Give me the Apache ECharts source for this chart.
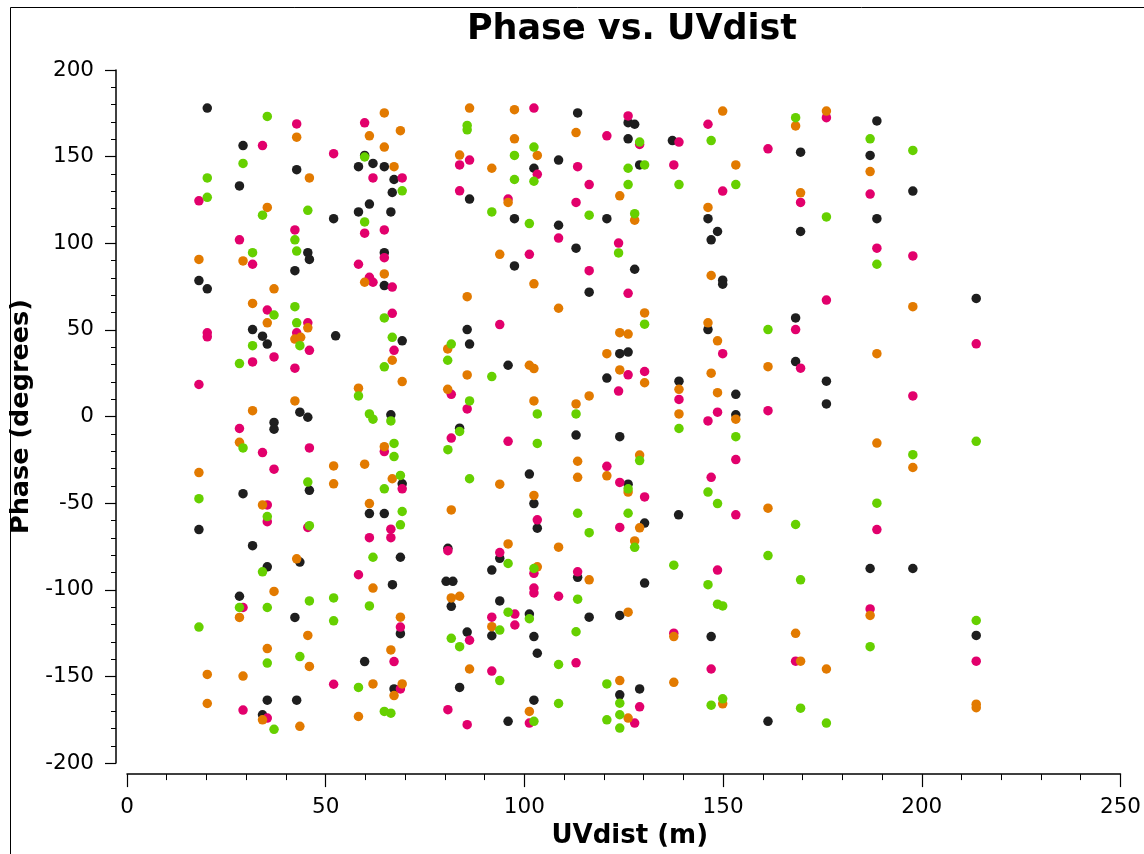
<!DOCTYPE html>
<html>
<head>
<meta charset="utf-8">
<script src="https://cdn.jsdelivr.net/npm/echarts@6/dist/echarts.min.js"></script>
<style>html,body{margin:0;padding:0;background:#fff;overflow:hidden}#c{width:1144px;height:854px}</style>
</head>
<body>
<div id="c"></div>
<script>
const titleText = "Phase vs. UVdist";
const xName = "UVdist (m)";
const yName = "Phase (degrees)";

const blackPts = [
[20.2,178],[29.2,156.4],[42.7,142.5],[28.3,133.1],[52,114.2],[45.5,94.6],[45.9,90.7],[42.25,84.2],[18.1,78.5],[20.2,73.7],
[31.6,50.2],[34.1,46.4],[35.3,41.8],[43.5,2.5],[45.5,-0.4],[37,-3.4],[37,-7.3],[29.2,-44.5],[45.9,-42.6],[18.1,-65.2],
[31.6,-74.5],[35.3,-86.7],[43.5,-84],[28.3,-103.7],[42.25,-115.9],[35.3,-163.7],[42.7,-163.7],[34.1,-172.1],
[59.8,150.7],[58.25,144.2],[61.9,146.1],[64.75,144.2],[67.2,136.8],[66.75,129.3],[61,122.6],[58.25,118.1],[66.4,118.1],
[86.2,125.5],[64.75,94.6],[64.75,75.6],[52.5,46.6],[69.25,43.7],[85.6,50.2],[86.2,41.8],[66.4,1.0],
[83.7,-6.7],[69.25,-38.8],[61,-56],[64.75,-56],[80.75,-76],[68.8,-81.2],[66.8,-97],[80.3,-95.1],[82,-95.1],[81.6,-109.5],
[68.8,-125.3],[85.6,-124.4],[59.8,-141.4],[67.2,-157.2],[83.7,-156.3],
[113.4,175.2],[108.6,148],[102.4,143.3],[97.5,114.2],[108.6,110.4],[120.75,114.2],[113,97.2],[97.5,86.9],[116.3,71.8],
[124,36.3],[126.1,37.2],[95.9,29.6],[120.75,22.2],
[124,-11.6],[113,-10.7],[101.25,-33.2],[102.4,-50.2],[103.25,-64.4],[93.8,-81.8],[91.8,-88.6],[113.4,-92.8],[93.8,-106.4],
[101.25,-114],[91.8,-126.5],[116.3,-115.8],[124,-114.8],[102.4,-127],[103.25,-136.6],[102.4,-163.7],[124,-160.6],[95.9,-175.9],
[126.1,169.6],[127.75,168.7],[126.1,160.3],[137.25,159.3],[129,145.2],[146.2,114.2],[148.6,106.8],[147,102],[127.75,85],
[149.9,78.7],[149.9,76.4],[146.2,50.2],[138.9,20.4],[153.2,12.8],[153.2,1.0],
[126.1,-39],[138.8,-56.7],[130.25,-61.5],[130.25,-96.1],[147,-127],[129,-157.2],[161.3,-175.9],
[188.7,170.6],[169.5,152.6],[187,150.7],[197.75,130.1],[188.7,114.2],[169.5,106.8],[213.7,68.2],[168.25,56.9],
[168.25,31.7],[176,20.4],[176,7.3],[187,-87.7],[197.75,-87.7],[213.7,-126.3]
];

const magentaPts = [
[42.7,168.9],[34.1,156.4],[52,151.7],[18.1,124.5],[42.25,107.7],[28.3,102],[31.6,87.9],[35.3,61.5],[45.5,54.1],[20.2,48.3],
[20.2,46],[42.7,48.3],[45.9,38.2],[31.6,31.5],[37,34.4],[42.25,27.9],[18.1,18.5],
[28.3,-6.9],[34.1,-20.8],[45.9,-18.1],[37,-30.4],[35.3,-51],[35.3,-60.7],[45.5,-64],[29.2,-110.2],[52,-154.5],[29.2,-169.4],[35.3,-174],
[59.8,169.5],[69.25,137.7],[61.9,137.7],[59.8,105.8],[64.75,107.7],[83.7,145.2],[86.2,148],[83.7,130.3],[64.75,91.7],[58.25,87.9],
[61,80.4],[61.9,77.5],[66.75,74.7],[66.75,59.6],[67.2,38.2],[81.6,12.8],[85.6,4.4],
[81.6,-12.4],[64.75,-20.2],[69.25,-41.7],[66.4,-65],[66.4,-69.9],[61,-69.9],[80.75,-77.4],[58.25,-91.3],[68.8,-121.5],[86.2,-129.1],
[67.2,-141.4],[68.8,-157.2],[80.75,-169.2],[85.6,-177.8],
[102.4,178],[120.75,162],[113.4,144.2],[103.25,139.8],[116.3,133.9],[95.9,125.5],[113,123.6],[108.6,103],[123.7,100.1],[101.25,93.6],
[116.3,84.2],[93.8,53.1],[123.7,14.7],
[95.9,-14.3],[120.75,-28.7],[124,-38],[103.25,-59.6],[124,-64],[93.8,-78.5],[102.4,-90.5],[113.4,-89.6],[102.4,-99],[102.4,-101.8],
[108.6,-103.7],[97.6,-114],[91.8,-115.8],[97.6,-120.3],[113,-142.1],[91.8,-146.9],[101.25,-176.9],
[126.1,173.5],[146.2,168.7],[129,157],[138.9,158.4],[161.3,154.5],[137.6,145.2],[149.9,130.1],[126.1,71.1],[149.9,36.3],[126.1,24.1],
[130.25,26],[138.9,9.9],[148.6,2.5],[146.2,-2.5],[161.3,3.4],
[153.2,-24.8],[147,-35.1],[130.25,-46.4],[153.2,-56.7],[148.6,-88.6],[137.6,-125],[147,-145.7],[129,-167.5],[127.75,-176.9],
[176,172.5],[169.5,123.6],[187,128.4],[188.7,97.2],[197.75,92.7],[176,67.2],[168.25,50.2],[213.7,42],[169.5,27.9],[197.75,11.9],
[188.7,-65.2],[187,-111],[168.25,-141.2],[213.7,-141.2]
];

const orangePts = [
[42.7,161.2],[45.9,137.7],[35.3,120.7],[18.1,90.7],[29.2,89.8],[37,73.7],[31.6,65.3],[35.3,54.1],[45.5,51.2],[42.25,44.7],
[43.7,45.7],[42.25,9],[31.6,3.4],
[28.3,-14.9],[18.1,-32.3],[52,-28.5],[52,-38.8],[34.1,-51],[42.7,-82.1],[37,-100.9],[28.3,-115.9],[45.5,-126.3],[35.3,-133.9],
[45.9,-144.2],[20.2,-148.8],[29.2,-149.8],[20.2,-165.6],[34.1,-175],[43.5,-178.8],
[64.75,175.2],[68.8,165],[61,162],[64.75,155.5],[67.2,144.2],[83.7,150.9],[86.2,178],[64.75,82.3],[59.8,77.5],[85.6,69.2],
[66.75,32.5],[69.25,20.2],[58.25,16.4],[80.7,39],[85.6,24],[80.7,15.7],
[64.75,-17.4],[59.8,-27.5],[66.75,-35.9],[61,-50.2],[81.6,-53.9],[61.9,-99],[81.6,-104.7],[83.7,-103.7],[68.8,-115.8],
[66.4,-134.7],[86.2,-145.7],[61.9,-154.3],[69.25,-154.3],[67.2,-161],[58.25,-173.1],
[97.5,177.1],[113,163.9],[97.5,160.3],[103.25,150.7],[91.8,143.3],[95.9,123.6],[124,127.4],[93.8,93.6],[102.4,76.6],[108.6,62.5],
[124,48.4],[126.1,47.6],[120.75,36.3],[101.25,29.6],[102.4,27.7],[124,26.9],[102.4,9],[113,7.3],[116.3,11.9],
[113.4,-25.8],[113.4,-35.1],[120.75,-34.2],[93.8,-39],[102.4,-45.5],[95.9,-73.5],[108.6,-75.4],[103.25,-86.7],[116.3,-94.2],
[91.8,-121.3],[124,-152.4],[101.25,-170.2],
[149.9,176.3],[153.2,145.2],[146.2,120.7],[127.75,113.3],[147,81.4],[130.25,59.8],[146.2,54.1],[148.6,43.7],[130.25,19.5],
[147,25],[161.3,28.8],[138.9,15.7],[138.9,1.5],[148.6,13.8],[153.2,-1.5],
[129,-22.2],[126.1,-43.6],[161.3,-52.9],[129,-64.2],[127.75,-71.8],[126.1,-112.9],[137.6,-127],[137.6,-153.4],[126.1,-174],[149.9,-165.8],
[168.25,167.7],[176,176.3],[187,141.4],[169.5,129.1],[197.75,63.4],[188.7,36.3],
[188.7,-15.3],[197.75,-29.4],[187,-114.8],[168.25,-125.1],[169.5,-141.2],[176,-145.7],[213.7,-166],[213.7,-168]
];

const greenPts = [
[35.3,173.2],[29.2,146.1],[20.2,137.7],[20.2,126.5],[34.1,116.2],[45.5,119],[42.25,102],[42.7,95.5],[31.6,94.6],[37,58.6],
[42.25,63.4],[42.7,54.1],[43.5,40.9],[31.6,40.9],[28.3,30.6],
[29.2,-18.1],[45.5,-37.8],[18.1,-47.4],[35.3,-57.7],[45.9,-63],[34.1,-89.6],[28.3,-110.2],[35.3,-110.2],[45.9,-106.4],[52,-104.7],
[52,-117.9],[18.1,-121.5],[43.5,-138.5],[35.3,-142.3],[37,-180.5],
[59.8,149.8],[69.25,130.3],[59.8,112.3],[85.6,165.5],[85.6,168],[64.75,56.9],[66.75,45.7],[64.75,28.7],[58.25,11.9],[81.6,41.8],
[80.7,32.5],[86.2,9],[61,1.5],[61.9,-1.5],[66.4,-2.5],
[83.7,-8.6],[80.75,-19.1],[67.2,-15.5],[67.2,-23.1],[68.8,-34],[64.75,-41.7],[86.2,-35.9],[69.25,-54.8],[68.8,-62.5],[61.9,-81.2],
[61,-109.3],[81.6,-128],[83.7,-132.8],[58.25,-156.3],[64.75,-170.2],[66.4,-171.2],
[102.4,155.5],[97.5,150.7],[97.5,136.8],[102.4,135.8],[91.8,118.1],[101.25,111.4],[116.3,116.2],[123.7,94.4],[91.8,23.1],
[103.25,1.5],[113,1.5],
[103.25,-15.5],[113.4,-55.8],[116.3,-67],[95.9,-84.8],[102.4,-87.7],[113.4,-105.4],[95.9,-112.9],[101.25,-116.7],[93.8,-123.2],
[113,-124.2],[108.6,-143.1],[93.8,-152.4],[120.75,-154.3],[124,-165.4],[108.6,-165.6],[102.4,-175.9],[120.75,-175],[124,-172.1],[124,-179.8],
[129,158.4],[147,159.3],[130.25,145.2],[126.1,143.3],[126.1,133.9],[138.9,133.9],[153.2,133.9],[127.75,117.1],[130.25,53.3],[161.3,50.2],
[138.9,-6.9],[153.2,-11.6],[129,-25.4],[126.1,-41.7],[146.2,-43.6],[148.6,-50.2],[126.1,-55.8],[127.75,-75.5],[161.3,-80.2],
[137.6,-85.8],[146.2,-97],[148.6,-108.3],[149.9,-109.3],[147,-166.6],[149.9,-162.9],
[168.25,172.5],[187,160.3],[197.75,153.6],[176,115.2],[188.7,87.9],
[213.7,-14.3],[197.75,-22],[188.7,-50],[168.25,-62.3],[169.5,-94.2],[213.7,-117.7],[187,-132.8],[169.5,-168.3],[176,-176.9]
];

const chart = echarts.init(document.getElementById('c'), null, {renderer: 'canvas'});
const axisFont = 'DejaVu Sans';
function ser(name, data, color) {
  return {
    name: name, type: 'scatter', data: data, symbol: 'circle', symbolSize: 9.5,
    itemStyle: {color: color, opacity: 1}, emphasis: {disabled: true}, animation: false
  };
}
chart.setOption({
  animation: false,
  backgroundColor: '#ffffff',
  title: {
    text: titleText, left: 627, top: 7, textAlign: 'center',
    textStyle: {fontFamily: axisFont, fontWeight: 'bold', fontSize: 35, color: '#000'}
  },
  graphic: [{
    type: 'rect', shape: {x: 10.5, y: 7.5, width: 1200, height: 900},
    style: {fill: 'none', stroke: '#000', lineWidth: 1}, silent: true, z: -1
  }],
  grid: {left: 127, right: 16, top: 70, bottom: 86, containLabel: false},
  xAxis: {
    type: 'value', min: 0, max: 250, interval: 50, offset: 11,
    name: xName, nameLocation: 'middle', nameGap: 45,
    nameTextStyle: {fontFamily: axisFont, fontWeight: 'bold', fontSize: 26, color: '#000', padding: [0, 0, 0, 12]},
    axisLine: {show: true, onZero: false, lineStyle: {color: '#000', width: 1.5}},
    axisTick: {show: true, length: 13, lineStyle: {color: '#000', width: 1.2}},
    minorTick: {show: true, splitNumber: 5, length: 6, lineStyle: {color: '#000', width: 1}},
    axisLabel: {fontFamily: axisFont, fontSize: 21.5, color: '#000', margin: 22},
    splitLine: {show: false}
  },
  yAxis: {
    type: 'value', min: -200, max: 200, interval: 50, offset: 11,
    name: yName, nameLocation: 'middle', nameGap: 78,
    nameTextStyle: {fontFamily: axisFont, fontWeight: 'bold', fontSize: 25.5, color: '#000'},
    axisLine: {show: true, onZero: false, lineStyle: {color: '#000', width: 1.5}},
    axisTick: {show: true, length: 11, lineStyle: {color: '#000', width: 1.2}},
    minorTick: {show: true, splitNumber: 5, length: 5, lineStyle: {color: '#000', width: 1}},
    axisLabel: {fontFamily: axisFont, fontSize: 21.5, color: '#000', margin: 22},
    splitLine: {show: false}
  },
  series: [
    ser('black', blackPts, '#1e1e1e'),
    ser('magenta', magentaPts, '#e2006c'),
    ser('orange', orangePts, '#e27a00'),
    ser('green', greenPts, '#66d000')
  ]
});
</script>
</body>
</html>
